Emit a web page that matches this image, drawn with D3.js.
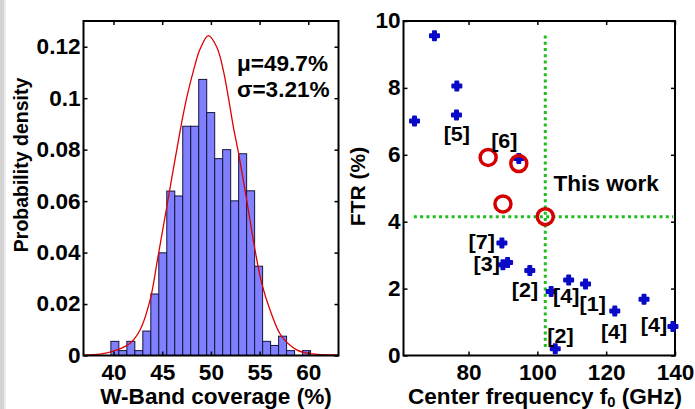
<!DOCTYPE html>
<html>
<head>
<meta charset="utf-8">
<script src="https://cdn.jsdelivr.net/npm/d3@7"></script>
<style>
  body { margin: 0; background: #fff; }
  svg text { font-family: Arial, "Liberation Sans", Helvetica, sans-serif; font-weight: bold; fill: #000; }
  .wide { transform-box: fill-box; transform-origin: center; transform: scaleX(1.05); }
  .wide-r { transform-box: fill-box; transform-origin: right center; transform: scaleX(1.05); }
  .wide-l { transform-box: fill-box; transform-origin: left center; transform: scaleX(1.05); }
</style>
</head>
<body>
<svg id="chart" width="695" height="409"></svg>
<script>
// Left panel: histogram of W-band coverage with the fitted normal curve.
const binStart = 39.73;
const binWidth = 0.82;
const binDensity = [0.0055, 0.0019, 0.0055, 0.0019, 0.0095, 0.0239, 0.0399, 0.0639, 0.0620, 0.0891,
  0.0891, 0.1073, 0.0944, 0.0765, 0.0800, 0.0601, 0.0784, 0.0640, 0.0347, 0.0055,
  0.0039, 0.0075, 0.0019, 0, 0.0019];
const fitX = [36.92, 38.64, 40.35, 41.71, 42.74, 43.76, 44.55, 45.48, 46.85, 47.53, 48.21, 48.89, 49.74,
  50.61, 51.28, 51.79, 52.31, 52.82, 53.68, 54.53, 55.22, 56.07, 57.27, 58.81, 60.17, 63.08];
const fitY = [0.0002, 0.0005, 0.0022, 0.0048, 0.0100, 0.0216, 0.0380, 0.0580, 0.0875, 0.1004, 0.1107, 0.1191, 0.1243,
  0.1198, 0.1107, 0.1004, 0.0888, 0.0790, 0.0603, 0.0410, 0.0280, 0.0177, 0.0074, 0.0022, 0.0007, 0.0002];
const fitText = ['\u03bc=49.7%', '\u03c3=3.21%'];
const histXTicks = [40, 45, 50, 55, 60];
const histYTicks = [0, 0.02, 0.04, 0.06, 0.08, 0.1, 0.12];

// Right panel: FTR versus centre frequency for published works and this work.
const refFreq = [64.3, 70.1, 76.6, 76.5, 94.6, 89.7, 90.0, 91.35, 97.8, 104.0, 109.1, 114.0, 122.5, 131.0, 139.4, 105.2];
const refFTR = [7.01, 9.56, 8.06, 7.19, 5.89, 3.36, 2.71, 2.78, 2.54, 1.91, 2.26, 2.14, 1.33, 1.68, 0.87, 0.20];
const ringFreq = [85.7, 94.6, 90.0, 102.3];
const ringFTR = [5.92, 5.74, 4.53, 4.15];
const refLabels = ['[5]', '[6]', '[7]', '[3]', '[2]', '[4]', '[1]', '[2]', '[4]', '[4]'];
const labelFreq = [76.6, 90.4, 83.85, 85.3, 96.4, 108.4, 116.1, 106.7, 122.3, 133.9];
const labelFTR = [6.62, 6.42, 3.39, 2.75, 1.96, 1.77, 1.54, 0.58, 0.72, 0.91];
const thisWorkFreq = 102.3, thisWorkFTR = 4.15;
const guideFTRSpan = [0.2, 9.57];
const guideFreqSpan = [64.1, 139.5];
const freqTicks = [80, 100, 120, 140];
const ftrTicks = [0, 2, 4, 6, 8, 10];

const svg = d3.select('#chart');
svg.append('rect').attr('width', 695).attr('height', 409).attr('fill', '#fff');
svg.append('rect').attr('x', 0).attr('width', 4).attr('height', 409).attr('fill', '#d4d4d4');
svg.append('rect').attr('x', 4).attr('width', 2).attr('height', 409).attr('fill', '#ededed');

// MATLAB-like box with inward ticks on all four sides.
function frame(g, x, y, xt, yt, xFmt, yFmt) {
  const [x0, x1] = x.range(), [y1, y0] = y.range();
  g.append('g').attr('transform', `translate(0,${y1})`)
    .call(d3.axisBottom(x).tickValues(xt).tickFormat(xFmt).tickSizeInner(-4).tickSizeOuter(0).tickPadding(9.5))
    .call(a => a.selectAll('text').attr('class', 'wide').style('font-size', '21.5px'));
  g.append('g').attr('transform', `translate(0,${y0})`)
    .call(d3.axisTop(x).tickValues(xt).tickFormat('').tickSizeInner(-4).tickSizeOuter(0));
  g.append('g').attr('transform', `translate(${x0},0)`)
    .call(d3.axisLeft(y).tickValues(yt).tickFormat(yFmt).tickSizeInner(-4).tickSizeOuter(0).tickPadding(3))
    .call(a => a.selectAll('text').attr('class', 'wide-r').style('font-size', '21.5px'));
  g.append('g').attr('transform', `translate(${x1},0)`)
    .call(d3.axisRight(y).tickValues(yt).tickFormat('').tickSizeInner(-4).tickSizeOuter(0));
  g.selectAll('.domain').remove();
  g.selectAll('.tick line').attr('stroke', '#000').attr('stroke-width', 1.5);
  g.append('rect').attr('x', x0).attr('y', y0).attr('width', x1 - x0).attr('height', y1 - y0)
    .attr('fill', 'none').attr('stroke', '#000').attr('stroke-width', 2);
}

// ---- histogram ----
const hx = d3.scaleLinear().domain([36.92, 63.1]).range([83.5, 338.5]);
const hy = d3.scaleLinear().domain([0, 0.13]).range([355.5, 21]);
const left = svg.append('g');
left.append('clipPath').attr('id', 'hclip').append('rect')
  .attr('x', 83.5).attr('y', 21).attr('width', 255).attr('height', 334.5);

left.append('g').selectAll('rect').data(binDensity).join('rect')
  .attr('x', (d, i) => hx(binStart + i * binWidth))
  .attr('width', hx(binStart + binWidth) - hx(binStart))
  .attr('y', d => hy(d))
  .attr('height', d => hy(0) - hy(d))
  .attr('fill', '#8080ff').attr('stroke', '#14143c').attr('stroke-width', 1);

const fitLine = d3.line().x(i => hx(fitX[i])).y(i => hy(fitY[i])).curve(d3.curveCatmullRom.alpha(0.5));
left.append('path').attr('d', fitLine(d3.range(fitX.length))).attr('clip-path', 'url(#hclip)')
  .attr('fill', 'none').attr('stroke', '#dd0000').attr('stroke-width', 1.3);

frame(left, hx, hy, histXTicks, histYTicks, d3.format('d'), d => d === 0 ? '0' : d3.format('.2~f')(d));

left.selectAll('text.fit').data(fitText).join('text').attr('class', 'fit wide-l')
  .attr('x', 237).attr('y', (d, i) => 71.5 + i * 26).style('font-size', '21.5px').text(d => d);

left.append('text').attr('class', 'wide').attr('x', 216).attr('y', 404.5)
  .attr('text-anchor', 'middle').style('font-size', '21.5px').text('W-Band coverage (%)');
left.append('text').attr('transform', 'translate(28,165) rotate(-90)')
  .attr('text-anchor', 'middle').style('font-size', '19.5px').text('Probability density');

// ---- scatter ----
const fx = d3.scaleLinear().domain([61.1, 140]).range([403.5, 675]);
const fy = d3.scaleLinear().domain([0, 10]).range([355.5, 21]);
const right = svg.append('g');

right.append('line').attr('x1', fx(thisWorkFreq)).attr('x2', fx(thisWorkFreq))
  .attr('y1', fy(guideFTRSpan[1])).attr('y2', fy(guideFTRSpan[0]))
  .attr('stroke', '#1ebe1e').attr('stroke-width', 3).attr('stroke-dasharray', '3,3.3');
right.append('line').attr('x1', fx(guideFreqSpan[0])).attr('x2', fx(guideFreqSpan[1]))
  .attr('y1', fy(thisWorkFTR)).attr('y2', fy(thisWorkFTR))
  .attr('stroke', '#1ebe1e').attr('stroke-width', 3).attr('stroke-dasharray', '3,3.3');

frame(right, fx, fy, freqTicks, ftrTicks, d3.format('d'), d3.format('d'));

const star = d3.symbol(d3.symbolCross, 45);
right.append('g').selectAll('path').data(refFreq).join('path')
  .attr('transform', (d, i) => `translate(${fx(d)},${fy(refFTR[i])})`)
  .attr('d', star).attr('fill', '#0a0ac8').attr('stroke', '#0a0ac8')
  .attr('stroke-width', 2).attr('stroke-linejoin', 'round');

right.append('g').selectAll('circle').data(ringFreq).join('circle')
  .attr('cx', d => fx(d)).attr('cy', (d, i) => fy(ringFTR[i])).attr('r', 8)
  .attr('fill', 'none').attr('stroke', '#d40000').attr('stroke-width', 3.5);

right.append('g').selectAll('text').data(refLabels).join('text').attr('class', 'wide')
  .attr('x', (d, i) => fx(labelFreq[i])).attr('y', (d, i) => fy(labelFTR[i]))
  .attr('dy', '0.35em').attr('text-anchor', 'middle').style('font-size', '20.5px').text(d => d);

right.append('text').attr('class', 'wide-l').attr('x', fx(104.7)).attr('y', 191.5)
  .style('font-size', '21.5px').text('This work');

const xl = right.append('text').attr('class', 'wide').attr('x', 545).attr('y', 404)
  .attr('text-anchor', 'middle').style('font-size', '21.5px');
xl.append('tspan').text('Center frequency f');
xl.append('tspan').attr('dy', 3).style('font-size', '14px').text('0');
xl.append('tspan').attr('dy', -3).text(' (GHz)');
right.append('text').attr('transform', 'translate(365,186.5) rotate(-90)')
  .attr('text-anchor', 'middle').style('font-size', '21px').text('FTR (%)');
</script>
</body>
</html>
